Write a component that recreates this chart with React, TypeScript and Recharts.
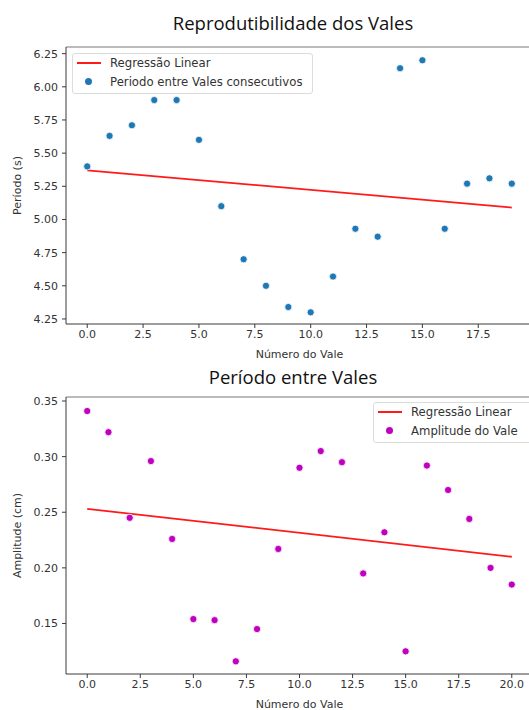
import {
  ComposedChart,
  Line,
  ReferenceLine,
  Scatter,
  XAxis,
  YAxis,
} from "recharts";

// top panel: period between consecutive valleys
const periodIdx = [0, 1, 2, 3, 4, 5, 6, 7, 8, 9, 10, 11, 12, 13, 14, 15, 16, 17, 18, 19];
const periodValues = [
  5.40, 5.63, 5.71, 5.90, 5.90, 5.60, 5.10, 4.70, 4.50, 4.34,
  4.30, 4.57, 4.93, 4.87, 6.14, 6.20, 4.93, 5.27, 5.31, 5.27,
];
const periodFitX = [0, 19];
const periodFitY = [5.37, 5.09];
const periodXTicks = [0, 2.5, 5, 7.5, 10, 12.5, 15, 17.5];
const periodYTicks = [4.25, 4.5, 4.75, 5.0, 5.25, 5.5, 5.75, 6.0, 6.25];

// bottom panel: valley amplitude
const ampIdx = [0, 1, 2, 3, 4, 5, 6, 7, 8, 9, 10, 11, 12, 13, 14, 15, 16, 17, 18, 19, 20];
const ampValues = [
  0.341, 0.322, 0.245, 0.296, 0.226, 0.154, 0.153, 0.116, 0.145, 0.217,
  0.290, 0.305, 0.295, 0.195, 0.232, 0.125, 0.292, 0.270, 0.244, 0.200, 0.185,
];
const ampFitX = [0, 20];
const ampFitY = [0.253, 0.21];
const ampXTicks = [0, 2.5, 5, 7.5, 10, 12.5, 15, 17.5, 20];
const ampYTicks = [0.15, 0.2, 0.25, 0.3, 0.35];

const RED = "#ff1a1a";
const BLUE = "#1f77b4";
const MAGENTA = "#bf00bf";
const AXIS = "#3a3a3a";
const FONT = "DejaVu Sans";
const TITLE_FONT = "Open Sans";

const tickStyle = { fontFamily: FONT, fontSize: 11, fill: "#333" };

type PanelProps = {
  top: number;
  xs: number[];
  ys: number[];
  fitX: number[];
  fitY: number[];
  xDomain: [number, number];
  yDomain: [number, number];
  xTicks: number[];
  yTicks: number[];
  yLabel: string;
  color: string;
};

function Panel({ top, xs, ys, fitX, fitY, xDomain, yDomain, xTicks, yTicks, yLabel, color }: PanelProps) {
  const points = xs.map((x, i) => ({ x, y: ys[i] }));
  const fit = fitX.map((x, i) => ({ x, y: fitY[i] }));
  return (
    <div style={{ position: "absolute", left: 0, top }}>
      <ComposedChart width={540} height={370} margin={{ top: 47, right: 7, bottom: 8, left: 0 }}>
        <XAxis
          type="number"
          dataKey="x"
          domain={xDomain}
          ticks={xTicks}
          allowDataOverflow
          height={38}
          tickSize={4}
          tickMargin={2}
          tick={tickStyle}
          stroke={AXIS}
          tickFormatter={(v: number) => v.toFixed(1)}
          label={{
            value: "Número do Vale",
            position: "insideBottom",
            offset: 4,
            style: { fontFamily: FONT, fontSize: 11, fill: "#333" },
          }}
        />
        <YAxis
          type="number"
          dataKey="y"
          domain={yDomain}
          ticks={yTicks}
          allowDataOverflow
          width={66}
          tickSize={4}
          tickMargin={4}
          tick={tickStyle}
          stroke={AXIS}
          tickFormatter={(v: number) => v.toFixed(2)}
          label={{
            value: yLabel,
            angle: -90,
            position: "insideLeft",
            offset: 17,
            style: { textAnchor: "middle", fontFamily: FONT, fontSize: 11, fill: "#333" },
          }}
        />
        <ReferenceLine y={yDomain[1]} stroke="#777" strokeWidth={1} />
        <Line
          data={fit}
          dataKey="y"
          stroke={RED}
          strokeWidth={1.8}
          dot={false}
          isAnimationActive={false}
        />
        <Scatter
          data={points}
          dataKey="y"
          isAnimationActive={false}
          shape={(p: any) => (
            <circle cx={p.cx} cy={p.cy} r={3.6} fill={color} stroke="#fff" strokeWidth={0.8} />
          )}
        />
      </ComposedChart>
    </div>
  );
}

function LegendBox({
  left,
  top,
  width,
  lineLabel,
  dotLabel,
  color,
}: {
  left: number;
  top: number;
  width: number;
  lineLabel: string;
  dotLabel: string;
  color: string;
}) {
  const text = {
    position: "absolute" as const,
    left: 37,
    fontFamily: FONT,
    fontSize: 11.7,
    lineHeight: "14px",
    color: "#333",
    whiteSpace: "nowrap" as const,
  };
  return (
    <div
      style={{
        position: "absolute",
        left,
        top,
        width,
        height: 39,
        border: "1px solid #dcdcdc",
        borderRadius: 3,
        background: "rgba(255,255,255,0.85)",
      }}
    >
      <div style={{ position: "absolute", left: 4, top: 8, width: 24, height: 2, background: RED }} />
      <div style={{ ...text, top: 2 }}>{lineLabel}</div>
      <div
        style={{
          position: "absolute",
          left: 12,
          top: 24,
          width: 7,
          height: 7,
          borderRadius: "50%",
          background: color,
        }}
      />
      <div style={{ ...text, top: 21 }}>{dotLabel}</div>
    </div>
  );
}

const titleStyle = {
  position: "absolute" as const,
  left: 0,
  width: 586,
  textAlign: "center" as const,
  fontFamily: TITLE_FONT,
  fontSize: 18.5,
  color: "#111",
  lineHeight: "24px",
};

export default function App() {
  return (
    <div
      style={{
        position: "absolute",
        left: 0,
        top: 0,
        width: 529,
        height: 710,
        overflow: "hidden",
        background: "#fff",
      }}
    >
      <div style={{ ...titleStyle, top: 11 }}>Reprodutibilidade dos Vales</div>
      <Panel
        top={0}
        xs={periodIdx}
        ys={periodValues}
        fitX={periodFitX}
        fitY={periodFitY}
        xDomain={[-0.95, 19.95]}
        yDomain={[4.212, 6.3]}
        xTicks={periodXTicks}
        yTicks={periodYTicks}
        yLabel="Período (s)"
        color={BLUE}
      />
      <LegendBox
        left={72}
        top={53}
        width={239}
        lineLabel="Regressão Linear"
        dotLabel="Periodo entre Vales consecutivos"
        color={BLUE}
      />

      <div style={{ ...titleStyle, top: 365 }}>Período entre Vales</div>
      <Panel
        top={350}
        xs={ampIdx}
        ys={ampValues}
        fitX={ampFitX}
        fitY={ampFitY}
        xDomain={[-1, 21]}
        yDomain={[0.1046, 0.3536]}
        xTicks={ampXTicks}
        yTicks={ampYTicks}
        yLabel="Amplitude (cm)"
        color={MAGENTA}
      />
      <LegendBox
        left={373}
        top={402}
        width={170}
        lineLabel="Regressão Linear"
        dotLabel="Amplitude do Vale"
        color={MAGENTA}
      />
    </div>
  );
}
